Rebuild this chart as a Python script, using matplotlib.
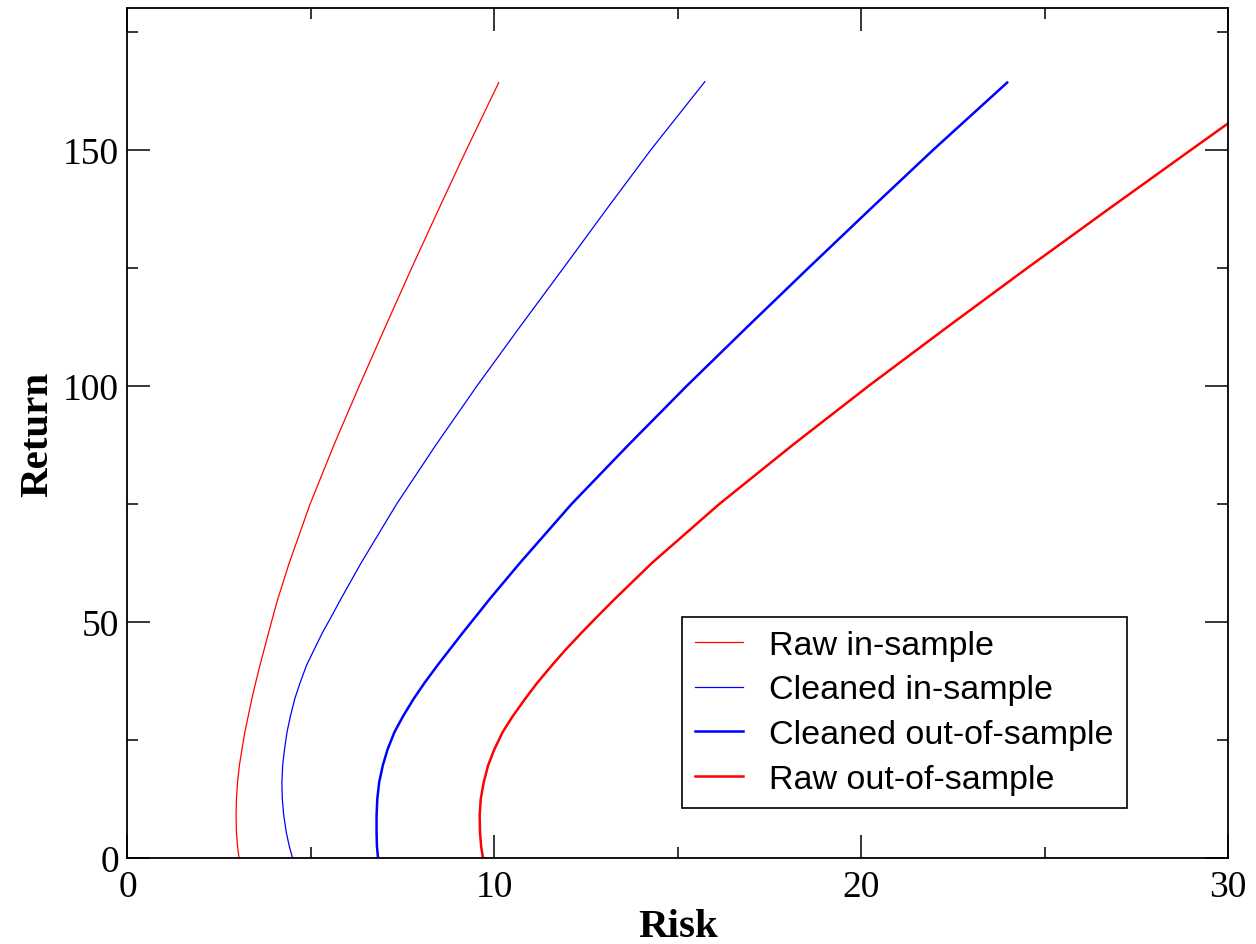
import matplotlib
matplotlib.use("Agg")
import matplotlib.pyplot as plt
from matplotlib.ticker import MultipleLocator

# values: return levels and the matching risk of each frontier
ret_raw_in = [0, 2.5, 5.4, 9, 12.5, 16, 19.6, 23, 26.7, 30, 33.7, 37, 40.8, 44, 47.8, 51, 54.9,
              62.5, 75, 87.5, 100, 112.5, 125, 137.5, 150, 164.2]
risk_raw_in = [3.04, 3.00, 2.97, 2.96, 2.97, 3.00, 3.05, 3.12, 3.20, 3.29, 3.39, 3.49, 3.61, 3.72, 3.85, 3.96, 4.10,
               4.41, 4.98, 5.63, 6.32, 7.03, 7.75, 8.49, 9.24, 10.12]

ret_clean_in = [0, 2.5, 5.4, 9, 12.5, 16, 19.6, 23, 26.7, 30, 33.7, 37, 40.8, 44, 47.8, 51, 54.9,
                62.5, 75, 87.5, 100, 112.5, 125, 137.5, 150, 164.4]
risk_clean_in = [4.50, 4.41, 4.33, 4.26, 4.22, 4.21, 4.23, 4.28, 4.35, 4.44, 4.56, 4.70, 4.88, 5.08, 5.32, 5.55, 5.82,
                 6.37, 7.34, 8.41, 9.53, 10.70, 11.89, 13.07, 14.27, 15.74]

ret_clean_out = [0, 2.5, 5.4, 9, 12.5, 16, 19.6, 23, 26.7, 30, 33.7, 37, 40.8, 44, 47.8, 51, 54.9,
                 62.5, 75, 87.5, 100, 112.5, 125, 137.5, 150, 164.2]
risk_clean_out = [6.83, 6.80, 6.79, 6.79, 6.81, 6.86, 6.96, 7.09, 7.28, 7.51, 7.80, 8.09, 8.45, 8.77, 9.15, 9.48, 9.88,
                  10.70, 12.11, 13.66, 15.25, 16.90, 18.57, 20.26, 21.97, 23.98]

ret_raw_out = [0, 2.5, 5.4, 9, 12.5, 16, 19.6, 23, 26.7, 30, 33.7, 37, 40.8, 44, 47.8, 51, 54.9,
               62.5, 75, 87.5, 100, 112.5, 125, 137.5, 150, 164.2]
risk_raw_out = [9.69, 9.64, 9.61, 9.60, 9.63, 9.71, 9.83, 10.00, 10.23, 10.50, 10.84, 11.16, 11.57, 11.93, 12.39, 12.79, 13.29,
                14.30, 16.14, 18.14, 20.21, 22.36, 24.54, 26.76, 29.0, 31.56]

labels = ["Raw in-sample", "Cleaned in-sample", "Cleaned out-of-sample", "Raw out-of-sample"]

serif = ["Liberation Serif", "DejaVu Serif"]

fig = plt.figure(figsize=(12.56, 9.45), dpi=100)
ax = fig.add_axes([0.1015, 0.091, 0.8762, 0.8995])

ax.plot(risk_raw_in, ret_raw_in, color="#ff0000", lw=0.9, label=labels[0])
ax.plot(risk_clean_in, ret_clean_in, color="#0000ff", lw=0.9, label=labels[1])
ax.plot(risk_clean_out, ret_clean_out, color="#0000ff", lw=1.8, label=labels[2])
ax.plot(risk_raw_out, ret_raw_out, color="#ff0000", lw=1.8, label=labels[3])

ax.set_xlim(0, 30)
ax.set_ylim(0, 180)
ax.xaxis.set_major_locator(MultipleLocator(10))
ax.xaxis.set_minor_locator(MultipleLocator(5))
ax.yaxis.set_major_locator(MultipleLocator(50))
ax.yaxis.set_minor_locator(MultipleLocator(25))

ax.tick_params(which="both", direction="in", top=True, right=True, width=1.1, colors="black")
ax.tick_params(which="major", length=16.5)
ax.tick_params(which="minor", length=8)
ax.tick_params(axis="x", which="major", pad=8)
ax.tick_params(axis="y", which="major", pad=6)
for s in ax.spines.values():
    s.set_linewidth(1.3)

for t in ax.get_xticklabels() + ax.get_yticklabels():
    t.set_family(serif)
    t.set_fontsize(27)

ax.set_xlabel("Risk", family=serif, fontsize=29.5, fontweight="bold", labelpad=3)
ax.set_ylabel("Return", family=serif, fontsize=29.5, fontweight="bold", labelpad=5)

leg = ax.legend(loc="upper left", bbox_to_anchor=(0.5428, 0.3465), bbox_transform=fig.transFigure,
                prop={"family": ["Liberation Sans", "DejaVu Sans"], "size": 24.5},
                fancybox=False, frameon=True, edgecolor="black", framealpha=1,
                handlelength=1.41, handletextpad=0.76, labelspacing=0.40, borderpad=0.39,
                borderaxespad=0)
leg.get_frame().set_linewidth(1.2)

fig.savefig("out.png", dpi=100)
